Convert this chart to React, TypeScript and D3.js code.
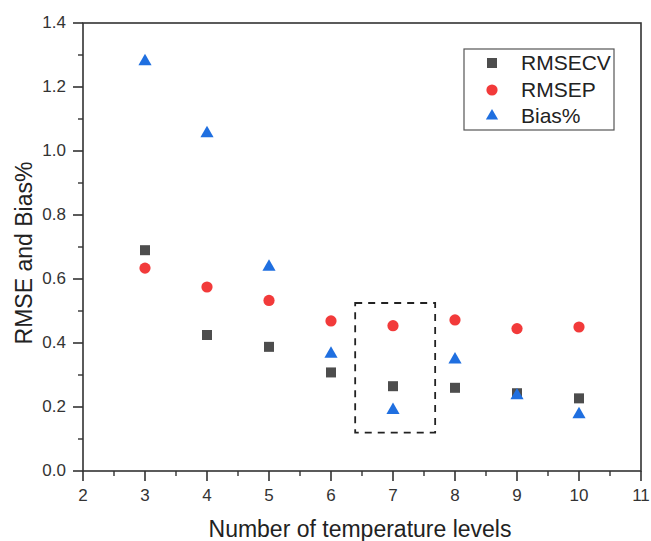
import React from "react";
import * as d3 from "d3";

const levels = [3, 4, 5, 6, 7, 8, 9, 10];
const rmsecv = [0.69, 0.425, 0.388, 0.308, 0.265, 0.26, 0.243, 0.227];
const rmsep = [0.634, 0.575, 0.533, 0.469, 0.454, 0.472, 0.445, 0.45];
const bias = [1.28, 1.055, 0.638, 0.366, 0.19, 0.348, 0.236, 0.177];
const xTicks = [2, 3, 4, 5, 6, 7, 8, 9, 10, 11];
const yTicks = [0, 0.2, 0.4, 0.6, 0.8, 1.0, 1.2, 1.4];
const boxX = [6.39, 7.68];
const boxY = [0.12, 0.525];

const W = 651, H = 541;
const L = 83, R = 641, T = 23, B = 471;
const font = "'Liberation Sans', Arial, sans-serif";

export default function App() {
  const x = d3.scaleLinear().domain([2, 11]).range([L, R]);
  const y = d3.scaleLinear().domain([0, 1.4]).range([B, T]);
  const xMinor = d3.range(2.5, 11, 1);
  const yMinor = d3.range(0.1, 1.4, 0.2);
  const tri = d3.symbol().type(d3.symbolTriangle).size(75)() as string;
  const triL = d3.symbol().type(d3.symbolTriangle).size(65)() as string;
  return (
    <svg width={W} height={H} style={{ position: "absolute", left: 0, top: 0 }} fontFamily={font}>
      <rect x={0} y={0} width={W} height={H} fill="#fff" />
      {/* dashed box */}
      <rect x={x(boxX[0])} y={y(boxY[1])} width={x(boxX[1]) - x(boxX[0])} height={y(boxY[0]) - y(boxY[1])}
        fill="none" stroke="#222" strokeWidth={1.8} strokeDasharray="7,6" />
      {/* markers */}
      {levels.map((l, i) => (
        <rect key={"s" + i} x={x(l) - 5} y={y(rmsecv[i]) - 5} width={10} height={10} fill="#4d4d4d" />
      ))}
      {levels.map((l, i) => (
        <circle key={"c" + i} cx={x(l)} cy={y(rmsep[i])} r={5.6} fill="#f23a3a" />
      ))}
      {levels.map((l, i) => (
        <path key={"t" + i} d={tri} transform={`translate(${x(l)},${y(bias[i])})`} fill="#1f6fe0" />
      ))}
      {/* frame */}
      <rect x={L} y={T} width={R - L} height={B - T} fill="none" stroke="#333" strokeWidth={1.6} />
      {/* x ticks */}
      {xTicks.map((t) => (
        <g key={"xt" + t}>
          <line x1={x(t)} x2={x(t)} y1={B} y2={B + 10} stroke="#333" strokeWidth={1.6} />
          <text x={x(t)} y={B + 30} textAnchor="middle" fontSize={17} fill="#333">{t}</text>
        </g>
      ))}
      {xMinor.map((t) => (
        <line key={"xm" + t} x1={x(t)} x2={x(t)} y1={B} y2={B + 5} stroke="#333" strokeWidth={1.4} />
      ))}
      {yTicks.map((t) => (
        <g key={"yt" + t}>
          <line x1={L - 10} x2={L} y1={y(t)} y2={y(t)} stroke="#333" strokeWidth={1.6} />
          <text x={L - 17} y={y(t) + 5} textAnchor="end" fontSize={17} fill="#333">{t.toFixed(1)}</text>
        </g>
      ))}
      {yMinor.map((t) => (
        <line key={"ym" + t} x1={L - 5} x2={L} y1={y(t)} y2={y(t)} stroke="#333" strokeWidth={1.4} />
      ))}
      {/* axis titles */}
      <text x={360} y={537} textAnchor="middle" fontSize={23} fill="#222">Number of temperature levels</text>
      <text transform={`translate(32,253) rotate(-90)`} textAnchor="middle" fontSize={23} fill="#222">RMSE and Bias%</text>
      {/* legend */}
      <rect x={464} y={49} width={150} height={81} fill="#fff" stroke="#555" strokeWidth={1.2} />
      <rect x={487} y={58} width={10} height={10} fill="#4d4d4d" />
      <text x={521} y={70} fontSize={21} fill="#222">RMSECV</text>
      <circle cx={492} cy={90} r={5.6} fill="#f23a3a" />
      <text x={521} y={97} fontSize={21} fill="#222">RMSEP</text>
      <path d={triL} transform="translate(492,116)" fill="#1f6fe0" />
      <text x={521} y={123} fontSize={21} fill="#222">Bias%</text>
    </svg>
  );
}
